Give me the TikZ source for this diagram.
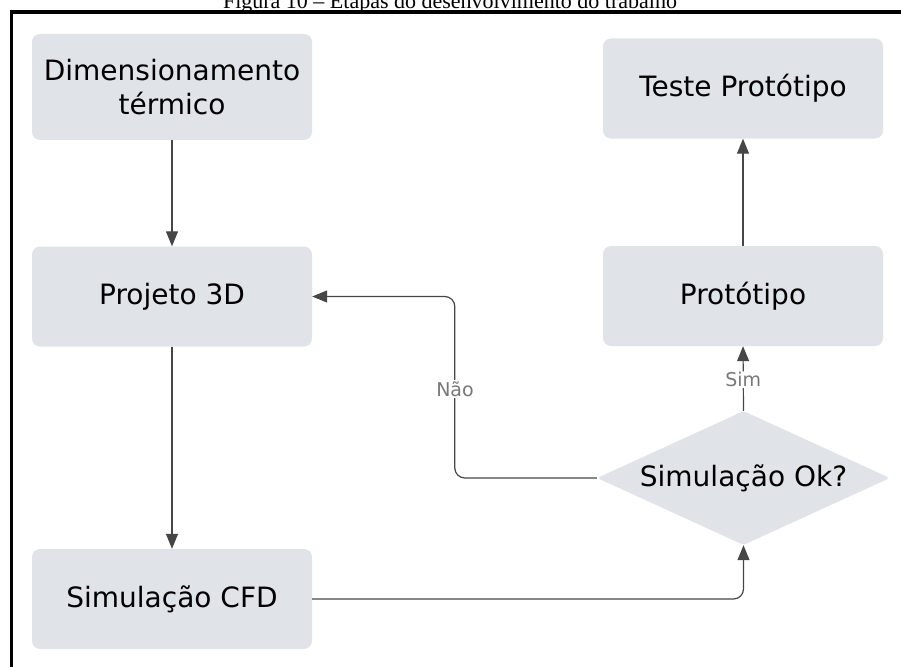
\documentclass[tikz,border=0pt]{standalone}
\usepackage{fontspec}
\setmainfont{DejaVu Sans}
\newfontfamily\capfont[Ligatures=TeX]{Liberation Serif}
\usetikzlibrary{arrows.meta,shapes.geometric}
\definecolor{boxfill}{RGB}{224,227,232}
\definecolor{linegray}{RGB}{70,70,70}
\definecolor{labelgray}{RGB}{120,120,120}
\tikzset{
  stepbox/.style={fill=boxfill, rounded corners=8pt, minimum width=280pt, minimum height=100pt,
    inner sep=0pt, align=center, font=\fontsize{28}{34}\selectfont, text=black},
  decbox/.style={diamond, fill=boxfill, minimum width=293pt, minimum height=134pt, aspect=2.19,
    inner sep=0pt, rounded corners=3pt, font=\fontsize{28}{34}\selectfont, text=black},
  arr/.style={draw=linegray, line width=1.2pt, -{Triangle[length=15pt,width=12pt]}, rounded corners=10pt},
  lbl/.style={fill=white, inner sep=1pt, text=labelgray, font=\fontsize{19}{22}\selectfont},
}
\begin{document}
\begin{tikzpicture}[x=1pt,y=-1pt]
\useasboundingbox (0,0) rectangle (901,666);
% caption (cut off at the top)
\node[anchor=base, inner sep=0pt, font=\capfont\fontsize{22}{25}\selectfont] (cap) at (450,8.5) {Figura 10 – Etapas do desenvolvimento do trabalho};
% frame
\draw[line width=3.5pt] (11.5,680) -- (11.5,12) -- (905,12);
% nodes
\node[stepbox, minimum height=106pt] (dim) at (172,87) {Dimensionamento\\térmico};
\node[stepbox] (proj) at (172,296.5) {Projeto 3D};
\node[stepbox] (cfd) at (172,599) {Simulação CFD};
\node[stepbox] (teste) at (743,88.5) {Teste Protótipo};
\node[stepbox] (prot) at (743,296) {Protótipo};
\node[decbox] (dec) at (743.5,478) {Simulação Ok?};
% connectors
\draw[arr] (dim) -- (proj);
\draw[arr] (proj) -- (cfd);
\draw[arr] (cfd.east) -| (dec.south);
\draw[arr] (dec.west) -- ++(-142,0) coordinate (nc) |- (proj.east);
\node[lbl] (nao) at (455,389) {Não};
\draw[arr] (dec.north) -- (prot.south) node[lbl, pos=0.48] (sim) {Sim};
\draw[arr] (prot) -- (teste);
\end{tikzpicture}
\end{document}
